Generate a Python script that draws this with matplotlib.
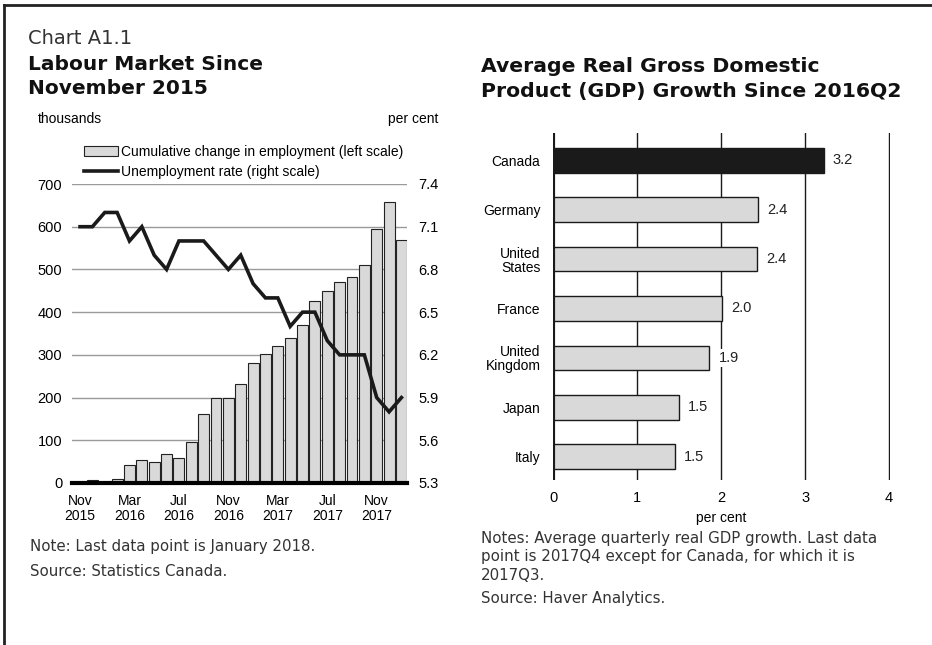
import numpy as np
import matplotlib.pyplot as plt
from matplotlib.lines import Line2D
from matplotlib.patches import Patch

# left panel: monthly, Nov 2015 to Jan 2018
months = ['Nov\n2015', 'Dec', 'Jan', 'Feb', 'Mar\n2016', 'Apr', 'May', 'Jun', 'Jul\n2016', 'Aug', 'Sep', 'Oct',
          'Nov\n2016', 'Dec', 'Jan', 'Feb', 'Mar\n2017', 'Apr', 'May', 'Jun', 'Jul\n2017', 'Aug', 'Sep', 'Oct',
          'Nov\n2017', 'Dec', 'Jan']
employment = [0, 8, 0, 10, 43, 55, 49, 68, 58, 97, 162, 198,
              198, 232, 281, 302, 320, 339, 370, 425, 449, 470, 483, 511,
              595, 659, 570]
unemployment = [7.1, 7.1, 7.2, 7.2, 7.0, 7.1, 6.9, 6.8, 7.0, 7.0, 7.0, 6.9,
                6.8, 6.9, 6.7, 6.6, 6.6, 6.4, 6.5, 6.5, 6.3, 6.2, 6.2, 6.2,
                5.9, 5.8, 5.9]

# right panel
countries = ['Canada', 'Germany', 'United\nStates', 'France', 'United\nKingdom', 'Japan', 'Italy']
gdp_growth = [3.22, 2.44, 2.43, 2.01, 1.86, 1.50, 1.45]
gdp_labels = ['3.2', '2.4', '2.4', '2.0', '1.9', '1.5', '1.5']

axfont = 'Liberation Sans'
txtfont = 'DejaVu Sans'
grey = '#d9d9d9'
W, H = 932, 645

def fx(px):
    return px / W

def fy(py):
    return 1 - py / H

fig = plt.figure(figsize=(9.32, 6.45), dpi=100)

# frame lines (top and left)
fig.add_artist(Line2D([fx(4), 1], [fy(5), fy(5)], color='#222222', lw=2))
fig.add_artist(Line2D([fx(4), fx(4)], [0, fy(5)], color='#222222', lw=2))

# ---- left chart ----
ax1 = fig.add_axes([fx(72), fy(483), 335 / W, 299 / H])
x = np.arange(len(months))
ax1.bar(x, employment, width=0.88, color=grey, edgecolor='#222222', linewidth=0.8, zorder=2)
ax1.set_ylim(0, 700)
ax1.set_yticks(range(0, 701, 100))
ax1.set_xlim(-0.65, 26.45)
ax1.grid(axis='y', color='#9a9a9a', lw=1, zorder=0)
ax1.set_axisbelow(True)
ax1.axhline(0, color='black', lw=3, zorder=5, clip_on=False)
for s in ax1.spines.values():
    s.set_visible(False)
ax1.set_xticks(x[::4])
ax1.set_xticklabels([months[i] for i in range(0, 27, 4)], fontsize=10, fontfamily=axfont, linespacing=1.05)
ax1.tick_params(length=0)
ax1.tick_params(axis='x', pad=8)
ax1.tick_params(axis='y', pad=7, labelsize=10.5)
for lab in ax1.get_yticklabels():
    lab.set_fontfamily(axfont)

ax2 = ax1.twinx()
ax2.plot(x, unemployment, color='#1a1a1a', lw=2.6, zorder=6, solid_joinstyle='miter')
ax2.set_ylim(5.3, 7.4)
rticks = np.round(np.arange(5.3, 7.41, 0.3), 1)
ax2.set_yticks(rticks)
ax2.set_yticklabels([f'{v:.1f}' for v in rticks], fontsize=10.5, fontfamily=axfont)
ax2.tick_params(length=0, pad=8)
for s in ax2.spines.values():
    s.set_visible(False)

handles = [Patch(facecolor=grey, edgecolor='#222222', linewidth=0.8),
           Line2D([], [], color='#1a1a1a', lw=2.6)]
ax1.legend(handles, ['Cumulative change in employment (left scale)', 'Unemployment rate (right scale)'],
           loc='lower left', bbox_to_anchor=(0.02, 1.0), frameon=False,
           prop={'family': axfont, 'size': 10}, handlelength=2.5, handletextpad=0.2,
           labelspacing=0.45, borderaxespad=0.15, borderpad=0.2)

fig.text(fx(38), fy(119), 'thousands', fontsize=10, fontfamily=axfont, va='center')
fig.text(fx(438), fy(119), 'per cent', fontsize=10, fontfamily=axfont, va='center', ha='right')

fig.text(fx(28), fy(38), 'Chart A1.1', fontsize=14, fontfamily=txtfont, va='center', color='#333333')
fig.text(fx(28), fy(64), 'Labour Market Since', fontsize=14.5, fontfamily=txtfont,
         fontweight='bold', va='center', color='#111111')
fig.text(fx(28), fy(89), 'November 2015', fontsize=14.5, fontfamily=txtfont,
         fontweight='bold', va='center', color='#111111')
fig.text(fx(30), fy(546), 'Note: Last data point is January 2018.', fontsize=10.8, fontfamily=txtfont,
         va='center', color='#333333')
fig.text(fx(30), fy(571), 'Source: Statistics Canada.', fontsize=10.8, fontfamily=txtfont,
         va='center', color='#333333')

# ---- right chart ----
ax3 = fig.add_axes([fx(553), fy(480), 337 / W, 347 / H])
y = np.arange(len(countries))
colors = ['#1a1a1a'] + [grey] * (len(countries) - 1)
ax3.barh(y, gdp_growth, height=0.5, color=colors, edgecolor='#1a1a1a', linewidth=1, zorder=3)
ax3.set_xlim(0, 4.01)
ax3.set_ylim(6.47, -0.55)
ax3.set_xticks(range(0, 5))
ax3.set_yticks(y)
ax3.set_yticklabels(countries, fontsize=10, fontfamily=axfont, linespacing=1.0)
ax3.tick_params(length=0)
ax3.tick_params(axis='y', pad=9)
ax3.tick_params(axis='x', pad=8, labelsize=10.5)
for lab in ax3.get_xticklabels():
    lab.set_fontfamily(axfont)
ax3.grid(axis='x', color='#1a1a1a', lw=1, zorder=0)
for s in ax3.spines.values():
    s.set_visible(False)
ax3.axvline(0, color='#1a1a1a', lw=3, zorder=5)
for yi, v, lab in zip(y, gdp_growth, gdp_labels):
    ax3.text(v + 0.11, yi, lab, va='center', ha='left', fontsize=10.5, fontfamily=axfont,
             color='#222222', zorder=4, bbox=dict(facecolor='white', edgecolor='none', pad=1.5))
ax3.set_xlabel('per cent', fontsize=10, fontfamily=axfont, labelpad=4)

fig.text(fx(481), fy(66), 'Average Real Gross Domestic', fontsize=14.7,
         fontfamily=txtfont, fontweight='bold', va='center', color='#111111')
fig.text(fx(481), fy(91), 'Product (GDP) Growth Since 2016Q2', fontsize=14.7,
         fontfamily=txtfont, fontweight='bold', va='center', color='#111111')
fig.text(fx(481), fy(557), 'Notes: Average quarterly real GDP growth. Last data\npoint is 2017Q4 except for Canada, for which it is\n2017Q3.',
         fontsize=10.8, fontfamily=txtfont, va='center', linespacing=1.25, color='#333333')
fig.text(fx(481), fy(598), 'Source: Haver Analytics.', fontsize=10.8, fontfamily=txtfont,
         va='center', color='#333333')

fig.savefig('out.png', dpi=100)
